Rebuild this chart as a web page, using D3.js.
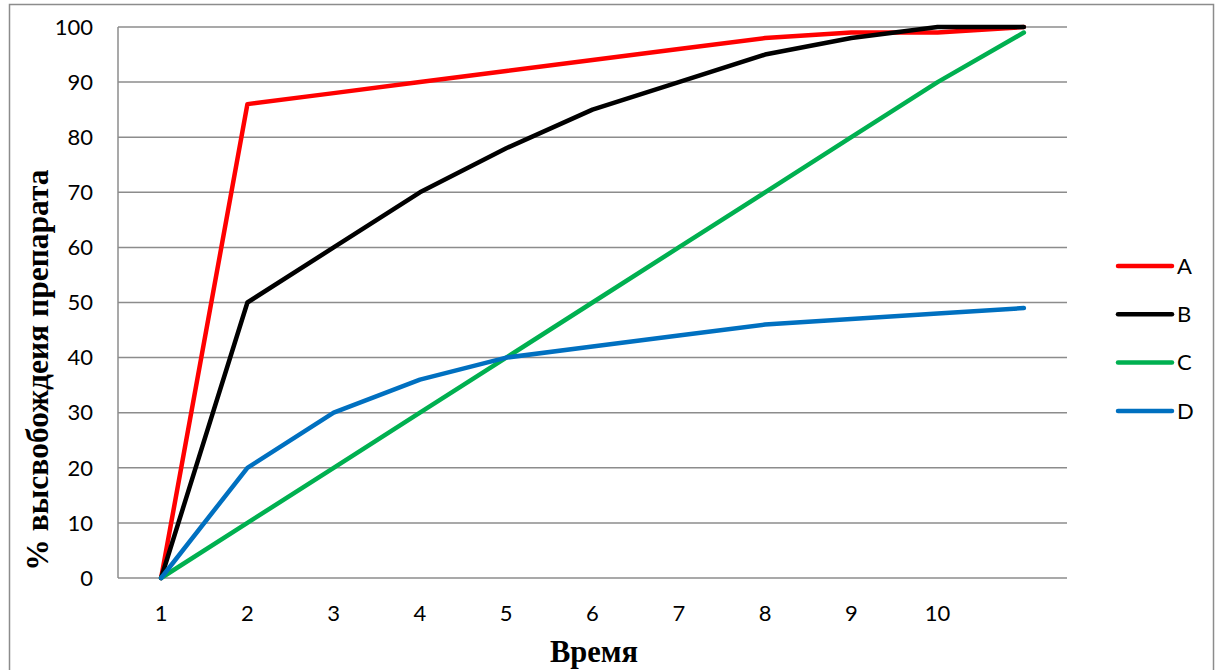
<!DOCTYPE html>
<meta charset="utf-8">
<style>body{margin:0;background:#fff}</style>
<svg width="1219" height="670"></svg>
<script src="https://d3js.org/d3.v7.min.js"></script>
<script>

var categories = ["1", "2", "3", "4", "5", "6", "7", "8", "9", "10", ""];
var yTicks = [0, 10, 20, 30, 40, 50, 60, 70, 80, 90, 100];
var seriesNames = ["A", "B", "C", "D"];
var seriesA = [0, 86, 88, 90, 92, 94, 96, 98, 99, 99, 100];
var seriesB = [0, 50, 60, 70, 78, 85, 90, 95, 98, 100, 100];
var seriesC = [0, 10, 20, 30, 40, 50, 60, 70, 80, 90, 99];
var seriesD = [0, 20, 30, 36, 40, 42, 44, 46, 47, 48, 49];
var colors = ["#ff0000", "#000000", "#00b050", "#0070c0"];

var series = [seriesA, seriesB, seriesC, seriesD];

var svg = d3.select("svg"),
    margin = {top: 27, left: 118},
    width = 1067 - 118,
    height = 578 - 27;

// outer frame
svg.append("rect")
    .attr("x", 9.5).attr("y", 4.5)
    .attr("width", 1204).attr("height", 680)
    .attr("fill", "none")
    .attr("stroke", "#8c8c8c")
    .attr("stroke-width", 1.5);

var g = svg.append("g").attr("transform", "translate(" + margin.left + "," + margin.top + ")");

var x = d3.scaleBand()
    .domain(d3.range(categories.length))
    .range([0, width]);

var y = d3.scaleLinear()
    .domain([0, 100])
    .range([height, 0]);

// gridlines
g.append("g")
    .selectAll("line")
    .data(yTicks)
    .enter().append("line")
    .attr("x1", 0).attr("x2", width)
    .attr("y1", function(d) { return y(d); })
    .attr("y2", function(d) { return y(d); })
    .attr("stroke", "#8c8c8c")
    .attr("stroke-width", 1.5);

// y axis line
g.append("line")
    .attr("x1", 0).attr("x2", 0)
    .attr("y1", 0).attr("y2", height)
    .attr("stroke", "#8c8c8c")
    .attr("stroke-width", 1.5);

// y tick labels
g.append("g")
    .selectAll("text")
    .data(yTicks)
    .enter().append("text")
    .attr("x", -25)
    .attr("y", function(d) { return y(d); })
    .attr("dy", "0.35em")
    .attr("text-anchor", "end")
    .attr("font-family", "Lato, sans-serif")
    .attr("font-size", 22)
    .attr("fill", "#000")
    .text(function(d) { return d; });

// x tick labels
g.append("g")
    .selectAll("text")
    .data(categories)
    .enter().append("text")
    .attr("x", function(d, i) { return x(i) + x.bandwidth() / 2; })
    .attr("y", height + 35)
    .attr("dy", "0.35em")
    .attr("text-anchor", "middle")
    .attr("font-family", "Lato, sans-serif")
    .attr("font-size", 22)
    .attr("fill", "#000")
    .text(function(d) { return d; });

var line = d3.line()
    .x(function(d, i) { return x(i) + x.bandwidth() / 2; })
    .y(function(d) { return y(d); });

g.append("g")
    .selectAll("path")
    .data(series)
    .enter().append("path")
    .attr("d", line)
    .attr("fill", "none")
    .attr("stroke", function(d, i) { return colors[i]; })
    .attr("stroke-width", 4.5)
    .attr("stroke-linejoin", "round")
    .attr("stroke-linecap", "round");

// legend
var legend = svg.append("g")
    .selectAll("g")
    .data(seriesNames)
    .enter().append("g")
    .attr("transform", function(d, i) { return "translate(1118," + (266 + i * 48.3) + ")"; });

legend.append("line")
    .attr("x1", 0).attr("x2", 54)
    .attr("stroke", function(d, i) { return colors[i]; })
    .attr("stroke-width", 4.5)
    .attr("stroke-linecap", "round");

legend.append("text")
    .attr("x", 59)
    .attr("dy", "0.35em")
    .attr("font-family", "Lato, sans-serif")
    .attr("font-size", 22)
    .attr("fill", "#000")
    .text(function(d) { return d; });

// axis titles
svg.append("text")
    .attr("transform", "translate(48,370) rotate(-90)")
    .attr("text-anchor", "middle")
    .attr("font-family", "Liberation Serif, serif")
    .attr("font-weight", "bold")
    .attr("font-size", 31.5)
    .attr("fill", "#000")
    .text("% высвобождеия препарата");

svg.append("text")
    .attr("x", 594)
    .attr("y", 662)
    .attr("text-anchor", "middle")
    .attr("font-family", "Liberation Serif, serif")
    .attr("font-weight", "bold")
    .attr("font-size", 30.5)
    .attr("fill", "#000")
    .text("Время");

</script>
